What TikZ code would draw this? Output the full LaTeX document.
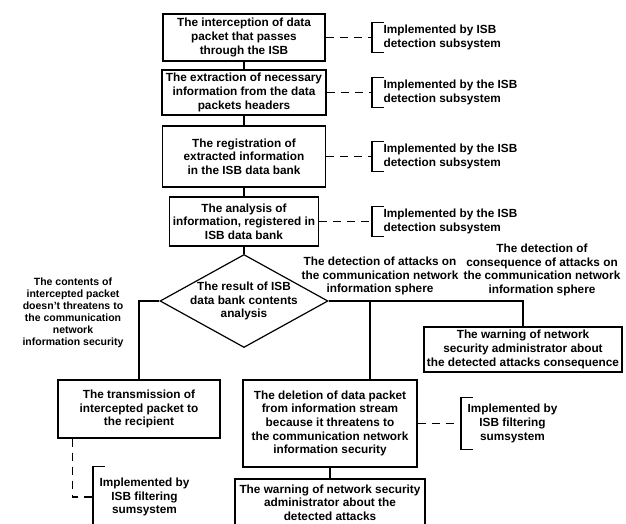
\documentclass[tikz,border=0pt]{standalone}
\usepackage{fontspec}
\setmainfont{Liberation Sans}
\usetikzlibrary{shapes}

\begin{document}
\begin{tikzpicture}[x=1pt,y=-1pt,line width=1.2pt,
  every node/.style={align=center,font=\bfseries\fontsize{11.8}{13.6}\selectfont},
  stepbox/.style={draw,rectangle,inner sep=1pt},
  decision/.style={draw,diamond,aspect=1.806,inner sep=-2pt,minimum width=168pt,minimum height=93pt},
  branch/.style={inner sep=0pt},
  smallbranch/.style={inner sep=0pt,font=\bfseries\fontsize{10.5}{12}\selectfont},
  detnote/.style={anchor=west,align=left,inner xsep=11pt,inner ysep=0pt,minimum height=29pt},
  filtnote/.style={anchor=west,inner xsep=6pt,inner ysep=0pt},
  dashline/.style={dash pattern=on 8pt off 6pt}]
  \useasboundingbox (0,0) rectangle (626,523);

  \node[stepbox,minimum width=162pt,minimum height=47pt] (intercept) at (244,37.5) {The interception of data\\packet that passes\\through the ISB};
  \node[stepbox,minimum width=164pt,minimum height=45pt] (extract) at (244,92.5) {The extraction of necessary\\information from the data\\packets headers};
  \node[stepbox,minimum width=163pt,minimum height=61pt] (register) at (244,156.5) {The registration of\\extracted information\\in the ISB data bank};
  \node[stepbox,minimum width=149pt,minimum height=49pt] (analyse) at (244,221.5) {The analysis of\\information, registered in\\ISB data bank};
  \node[decision] (result) at (244,301) {The result of ISB\\data bank contents\\analysis};

  \node[smallbranch] (safe) at (73,313) {The contents of\\intercepted packet\\doesn't threatens to\\the communication\\network\\information security};
  \node[branch] (attack) at (380,276) {The detection of attacks on\\the communication network\\information sphere};
  \node[branch] (conseq) at (542,270) {The detection of\\consequence of attacks on\\the communication network\\information sphere};

  \node[stepbox,minimum width=162pt,minimum height=58pt] (forward) at (139,409) {The transmission of\\intercepted packet to\\the recipient};
  \node[stepbox,minimum width=174pt,minimum height=87pt] (delete) at (330,423.5) {The deletion of data packet\\from information stream\\because it threatens to\\the communication network\\information security};
  \node[stepbox,minimum width=198pt,minimum height=45pt] (warncons) at (523,349.5) {The warning of network\\security administrator about\\the detected attacks consequence};
  \node[stepbox,minimum width=190pt,minimum height=47pt] (warnatt) at (330,502.5) {The warning of network security\\administrator about the\\detected attacks};

  \node[detnote] (det1) at (372,37.5) {Implemented by ISB\\detection subsystem};
  \node[detnote] (det2) at (372,92.5) {Implemented by the ISB\\detection subsystem};
  \node[detnote] (det3) at (372,156.5) {Implemented by the ISB\\detection subsystem};
  \node[detnote] (det4) at (372,221.5) {Implemented by the ISB\\detection subsystem};
  \node[filtnote,minimum height=60pt] (filt1) at (93,497) {Implemented by\\ISB filtering\\sumsystem};
  \node[filtnote,minimum height=51pt] (filt2) at (461,423.5) {Implemented by\\ISB filtering\\sumsystem};

  \foreach \from/\to in {intercept/extract, extract/register, register/analyse, analyse/result, delete/warnatt}
    \draw (\from) -- (\to);
  \draw (result.west) -| (forward);
  \draw (result.east) -| (warncons);
  \coordinate (split) at (370,301);
  \draw (split) -- (split |- delete.north);

  \foreach \from/\to in {intercept/det1, extract/det2, register/det3, analyse/det4, delete/filt2}
    \draw[dashline] (\from.east) -- (\to.west);
  \draw[dashline] ([xshift=15pt]forward.south west) |- (filt1.west);

  \foreach \n in {det1,det2,det3,det4,filt1,filt2}
    \draw ([xshift=12pt]\n.north west) -- (\n.north west) -- (\n.south west) -- ([xshift=12pt]\n.south west);

\end{tikzpicture}
\end{document}
